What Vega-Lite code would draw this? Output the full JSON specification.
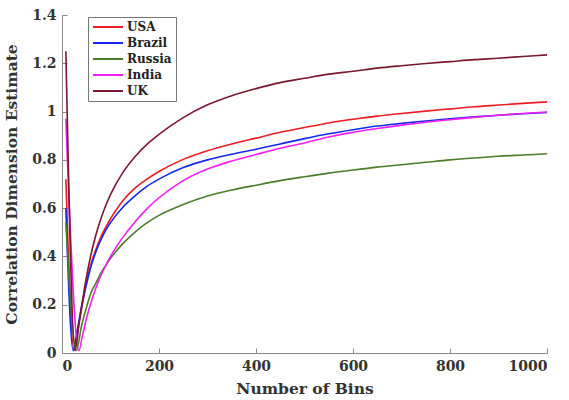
{
  "$schema": "https://vega.github.io/schema/vega-lite/v6.json",
  "width": 485,
  "height": 338,
  "autosize": "none",
  "padding": {"left": 62, "top": 15, "right": 22, "bottom": 47},
  "config": {
    "view": {"stroke": null},
    "font": "DejaVu Serif",
    "axis": {
      "grid": false,
      "domainColor": "#8a8a8a",
      "tickColor": "#8a8a8a",
      "tickSize": -5,
      "labelFont": "DejaVu Serif",
      "labelFontWeight": "bold",
      "labelFontSize": 14,
      "labelColor": "#333333",
      "titleFont": "DejaVu Serif",
      "titleFontWeight": "bold",
      "titleFontSize": 15.5,
      "titleColor": "#333333"
    },
    "legend": {
      "orient": "none",
      "legendX": 26,
      "legendY": 2,
      "strokeColor": "#777777",
      "fillColor": "white",
      "padding": 4,
      "title": null,
      "labelFont": "DejaVu Serif",
      "labelFontWeight": "bold",
      "labelFontSize": 12,
      "labelColor": "#222222",
      "symbolType": "M-1,0H5",
      "symbolSize": 100,
      "symbolStrokeWidth": 2,
      "labelOffset": 23,
      "rowPadding": 4
    }
  },
  "data": {
    "values": [
      {"c":"USA","x":8,"y":0.72},{"c":"USA","x":25,"y":0.01},{"c":"USA","x":33,"y":0.1},{"c":"USA","x":42,"y":0.2},{"c":"USA","x":50,"y":0.29},{"c":"USA","x":60,"y":0.37},{"c":"USA","x":70,"y":0.43},{"c":"USA","x":80,"y":0.48},{"c":"USA","x":90,"y":0.52},{"c":"USA","x":100,"y":0.556},{"c":"USA","x":125,"y":0.63},{"c":"USA","x":150,"y":0.682},{"c":"USA","x":175,"y":0.72},{"c":"USA","x":200,"y":0.752},{"c":"USA","x":250,"y":0.802},{"c":"USA","x":300,"y":0.838},{"c":"USA","x":350,"y":0.866},{"c":"USA","x":400,"y":0.89},{"c":"USA","x":450,"y":0.914},{"c":"USA","x":500,"y":0.934},{"c":"USA","x":550,"y":0.953},{"c":"USA","x":600,"y":0.968},{"c":"USA","x":650,"y":0.981},{"c":"USA","x":700,"y":0.992},{"c":"USA","x":750,"y":1.002},{"c":"USA","x":800,"y":1.011},{"c":"USA","x":850,"y":1.02},{"c":"USA","x":900,"y":1.027},{"c":"USA","x":950,"y":1.034},{"c":"USA","x":1000,"y":1.04},
      {"c":"Brazil","x":8,"y":0.6},{"c":"Brazil","x":23,"y":0.01},{"c":"Brazil","x":32,"y":0.1},{"c":"Brazil","x":41,"y":0.2},{"c":"Brazil","x":50,"y":0.28},{"c":"Brazil","x":60,"y":0.36},{"c":"Brazil","x":70,"y":0.42},{"c":"Brazil","x":80,"y":0.468},{"c":"Brazil","x":90,"y":0.508},{"c":"Brazil","x":100,"y":0.54},{"c":"Brazil","x":125,"y":0.603},{"c":"Brazil","x":150,"y":0.65},{"c":"Brazil","x":175,"y":0.69},{"c":"Brazil","x":200,"y":0.72},{"c":"Brazil","x":250,"y":0.768},{"c":"Brazil","x":300,"y":0.8},{"c":"Brazil","x":350,"y":0.823},{"c":"Brazil","x":400,"y":0.844},{"c":"Brazil","x":450,"y":0.866},{"c":"Brazil","x":500,"y":0.888},{"c":"Brazil","x":550,"y":0.908},{"c":"Brazil","x":600,"y":0.925},{"c":"Brazil","x":650,"y":0.94},{"c":"Brazil","x":700,"y":0.951},{"c":"Brazil","x":750,"y":0.961},{"c":"Brazil","x":800,"y":0.97},{"c":"Brazil","x":850,"y":0.978},{"c":"Brazil","x":900,"y":0.985},{"c":"Brazil","x":950,"y":0.991},{"c":"Brazil","x":1000,"y":0.996},
      {"c":"Russia","x":8,"y":0.54},{"c":"Russia","x":30,"y":0.01},{"c":"Russia","x":40,"y":0.11},{"c":"Russia","x":52,"y":0.2},{"c":"Russia","x":60,"y":0.25},{"c":"Russia","x":70,"y":0.29},{"c":"Russia","x":80,"y":0.33},{"c":"Russia","x":90,"y":0.362},{"c":"Russia","x":100,"y":0.392},{"c":"Russia","x":125,"y":0.452},{"c":"Russia","x":150,"y":0.5},{"c":"Russia","x":175,"y":0.539},{"c":"Russia","x":200,"y":0.57},{"c":"Russia","x":250,"y":0.615},{"c":"Russia","x":300,"y":0.65},{"c":"Russia","x":350,"y":0.675},{"c":"Russia","x":400,"y":0.695},{"c":"Russia","x":450,"y":0.714},{"c":"Russia","x":500,"y":0.73},{"c":"Russia","x":550,"y":0.745},{"c":"Russia","x":600,"y":0.758},{"c":"Russia","x":650,"y":0.77},{"c":"Russia","x":700,"y":0.78},{"c":"Russia","x":750,"y":0.79},{"c":"Russia","x":800,"y":0.8},{"c":"Russia","x":850,"y":0.808},{"c":"Russia","x":900,"y":0.815},{"c":"Russia","x":950,"y":0.82},{"c":"Russia","x":1000,"y":0.825},
      {"c":"India","x":8,"y":0.97},{"c":"India","x":35,"y":0.01},{"c":"India","x":42,"y":0.07},{"c":"India","x":50,"y":0.14},{"c":"India","x":60,"y":0.21},{"c":"India","x":70,"y":0.27},{"c":"India","x":80,"y":0.32},{"c":"India","x":90,"y":0.362},{"c":"India","x":100,"y":0.4},{"c":"India","x":125,"y":0.478},{"c":"India","x":150,"y":0.542},{"c":"India","x":175,"y":0.597},{"c":"India","x":200,"y":0.643},{"c":"India","x":250,"y":0.714},{"c":"India","x":300,"y":0.762},{"c":"India","x":350,"y":0.795},{"c":"India","x":400,"y":0.822},{"c":"India","x":450,"y":0.848},{"c":"India","x":500,"y":0.87},{"c":"India","x":550,"y":0.895},{"c":"India","x":600,"y":0.914},{"c":"India","x":650,"y":0.93},{"c":"India","x":700,"y":0.944},{"c":"India","x":750,"y":0.956},{"c":"India","x":800,"y":0.966},{"c":"India","x":850,"y":0.976},{"c":"India","x":900,"y":0.985},{"c":"India","x":950,"y":0.992},{"c":"India","x":1000,"y":0.998},
      {"c":"UK","x":8,"y":1.25},{"c":"UK","x":27,"y":0.01},{"c":"UK","x":35,"y":0.12},{"c":"UK","x":41,"y":0.2},{"c":"UK","x":50,"y":0.31},{"c":"UK","x":60,"y":0.41},{"c":"UK","x":70,"y":0.49},{"c":"UK","x":80,"y":0.555},{"c":"UK","x":90,"y":0.61},{"c":"UK","x":100,"y":0.656},{"c":"UK","x":125,"y":0.746},{"c":"UK","x":150,"y":0.812},{"c":"UK","x":175,"y":0.864},{"c":"UK","x":200,"y":0.906},{"c":"UK","x":250,"y":0.975},{"c":"UK","x":300,"y":1.028},{"c":"UK","x":350,"y":1.066},{"c":"UK","x":400,"y":1.095},{"c":"UK","x":450,"y":1.12},{"c":"UK","x":500,"y":1.138},{"c":"UK","x":550,"y":1.155},{"c":"UK","x":600,"y":1.167},{"c":"UK","x":650,"y":1.18},{"c":"UK","x":700,"y":1.19},{"c":"UK","x":750,"y":1.199},{"c":"UK","x":800,"y":1.207},{"c":"UK","x":850,"y":1.215},{"c":"UK","x":900,"y":1.221},{"c":"UK","x":950,"y":1.228},{"c":"UK","x":1000,"y":1.235}
    ]
  },
  "mark": {"type": "line", "strokeWidth": 1.6, "interpolate": "monotone"},
  "encoding": {
    "x": {
      "field": "x", "type": "quantitative",
      "scale": {"domain": [0, 1000], "nice": false},
      "axis": {"values": [0, 200, 400, 600, 800, 1000], "format": "d", "title": "Number of Bins", "labelPadding": 11, "titlePadding": 8}
    },
    "y": {
      "field": "y", "type": "quantitative",
      "scale": {"domain": [0, 1.4], "nice": false},
      "axis": {"values": [0, 0.2, 0.4, 0.6, 0.8, 1, 1.2, 1.4], "format": ".1~f", "title": "Correlation Dimension Estimate", "labelPadding": 11, "titlePadding": 12}
    },
    "color": {
      "field": "c", "type": "nominal",
      "scale": {"domain": ["USA", "Brazil", "Russia", "India", "UK"], "range": ["#ec1c24", "#1428ec", "#4a7d2a", "#f21ef2", "#7a1830"]},
      "legend": {"title": null}
    },
    "order": {"field": "x", "type": "quantitative"}
  }
}
